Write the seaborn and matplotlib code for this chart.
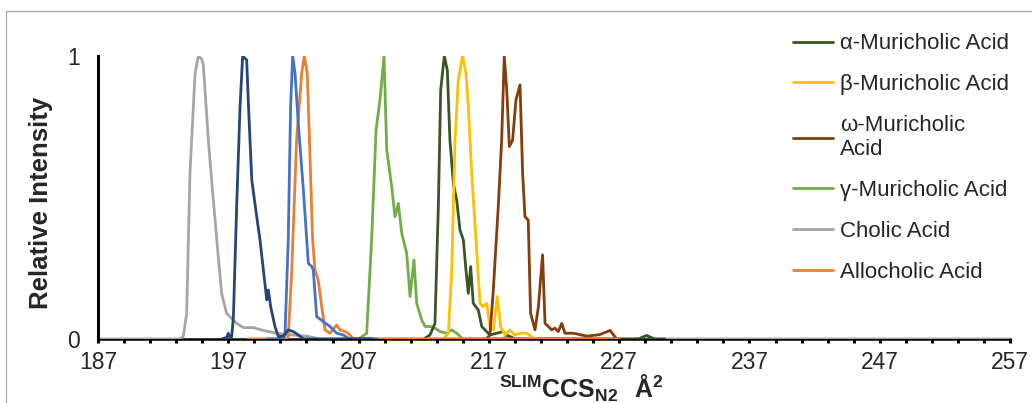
import pandas as pd
import matplotlib.pyplot as plt
import seaborn as sns
from matplotlib.lines import Line2D
from matplotlib.patches import Rectangle

# Peak traces (CCS in Å², intensity normalised to 1)
cholic_x = [187, 193.3, 193.55, 193.8, 194.06, 194.45, 194.7, 194.95, 195.08, 195.47, 195.85, 196.23,
            196.49, 196.87, 197.64, 198.15, 198.92, 199.69, 200.71, 201.7, 203.0, 204.0, 228.5, 229.1, 229.7, 257]
cholic_y = [0, 0, 0.01, 0.09, 0.59, 0.94, 1.0, 0.99, 0.97, 0.70, 0.49, 0.29,
            0.16, 0.09, 0.055, 0.04, 0.04, 0.03, 0.02, 0.015, 0.01, 0, 0, 0.012, 0, 0]

navy_x = [196.5, 196.87, 197.0, 197.13, 197.26, 197.39, 197.64, 197.9, 198.1, 198.41, 198.55, 198.8, 199.18,
          199.43, 199.69, 199.95, 200.07, 200.25, 200.58, 200.84, 201.22, 201.6, 201.99, 202.37, 202.76, 208.0]
navy_y = [0, 0.005, 0.02, 0.005, 0.008, 0.079, 0.468, 0.821, 1.0, 0.986, 0.821, 0.562, 0.432,
          0.35, 0.244, 0.138, 0.173, 0.114, 0.044, 0.008, 0.01, 0.032, 0.026, 0.014, 0, 0]

blue_x = [200.0, 201.2, 201.35, 201.6, 201.78, 201.94, 202.12, 202.37, 202.76, 203.14, 203.4, 203.52,
          203.78, 204.29, 204.8, 205.32, 205.82, 206.3, 208.4]
blue_y = [0, 0, 0.014, 0.35, 0.821, 1.0, 0.939, 0.762, 0.527, 0.267, 0.256, 0.244,
          0.079, 0.061, 0.044, 0.02, 0.014, 0, 0]

allo_x = [198.5, 201.5, 201.6, 201.86, 202.24, 202.63, 202.83, 203.06, 203.27, 203.47, 203.65, 203.9,
          204.17, 204.42, 204.8, 205.32, 205.57, 205.96, 206.2, 206.6, 227.0]
allo_y = [0, 0, 0.008, 0.232, 0.703, 0.939, 1.0, 0.939, 0.644, 0.35, 0.244, 0.208,
          0.114, 0.032, 0.02, 0.049, 0.032, 0.026, 0.02, 0, 0]

gamma_x = [207.0, 207.62, 208.0, 208.34, 208.64, 208.95, 209.16, 209.54, 209.79, 210.05, 210.31, 210.69,
           210.95, 211.25, 211.46, 211.84, 212.1, 212.48, 212.86, 213.25, 213.76, 214.14, 214.53, 215.0,
           218.0, 218.5, 219.0]
gamma_y = [0, 0.02, 0.35, 0.739, 0.845, 1.0, 0.668, 0.538, 0.432, 0.479, 0.373, 0.303,
           0.15, 0.279, 0.126, 0.067, 0.044, 0.044, 0.038, 0.026, 0.02, 0.032, 0.02, 0,
           0, 0.01, 0]

alpha_x = [212.0, 212.48, 212.86, 213.12, 213.3, 213.58, 213.81, 214.01, 214.27, 214.53, 214.78, 215.04,
           215.24, 215.42, 215.6, 215.8, 216.19, 216.45, 216.7, 217.08, 217.6, 218.1, 218.37, 219.0,
           228.5, 229.1, 229.7, 230.5]
alpha_y = [0, 0.014, 0.055, 0.468, 0.88, 1.0, 0.95, 0.703, 0.55, 0.491, 0.385, 0.35,
           0.244, 0.161, 0.256, 0.126, 0.102, 0.044, 0.032, 0.014, 0.02, 0.026, 0.014, 0,
           0, 0.012, 0, 0]

beta_x = [213.5, 213.89, 214.14, 214.4, 214.65, 214.99, 215.24, 215.42, 215.68, 216.01, 216.32, 216.52,
          216.83, 217.08, 217.34, 217.64, 217.9, 218.24, 218.62, 219.0, 219.39, 219.9, 220.5]
beta_y = [0, 0.02, 0.232, 0.703, 0.915, 1.0, 0.939, 0.821, 0.585, 0.35, 0.126, 0.114,
          0.126, 0.044, 0.032, 0.15, 0.044, 0.014, 0.032, 0.014, 0.02, 0.02, 0]

omega_x = [216.8, 217.08, 217.34, 217.72, 217.98, 218.18, 218.37, 218.57, 218.82, 219.08, 219.39, 219.59,
           219.77, 220.02, 220.2, 220.54, 220.8, 221.12, 221.31, 221.56, 221.82, 222.07, 222.33, 222.59,
           222.84, 223.5, 224.5, 225.5, 226.3, 226.8]
omega_y = [0, 0.014, 0.173, 0.468, 0.703, 1.0, 0.88, 0.68, 0.703, 0.845, 0.898, 0.585,
           0.432, 0.42, 0.091, 0.032, 0.114, 0.297, 0.055, 0.044, 0.032, 0.038, 0.026, 0.055,
           0.02, 0.02, 0.01, 0.015, 0.03, 0]

x_major = list(range(187, 258, 10))
x_minor = list(range(187, 258, 2))

series = {
    'Cholic Acid': (cholic_x, cholic_y),
    'γ-Muricholic Acid': (gamma_x, gamma_y),
    'α-Muricholic Acid': (alpha_x, alpha_y),
    'β-Muricholic Acid': (beta_x, beta_y),
    'ω-Muricholic\nAcid': (omega_x, omega_y),
    'Allocholic Acid': (allo_x, allo_y),
    'Unlabelled 2': (blue_x, blue_y),
    'Unlabelled 1': (navy_x, navy_y),
}
colors = {
    'α-Muricholic Acid': '#375623',
    'β-Muricholic Acid': '#FFC000',
    'ω-Muricholic\nAcid': '#843C0C',
    'γ-Muricholic Acid': '#70AD47',
    'Cholic Acid': '#A5A5A5',
    'Allocholic Acid': '#ED7D31',
    'Unlabelled 1': '#264478',
    'Unlabelled 2': '#4472C4',
}
legend_order = ['α-Muricholic Acid', 'β-Muricholic Acid', 'ω-Muricholic\nAcid',
                'γ-Muricholic Acid', 'Cholic Acid', 'Allocholic Acid']

rows = []
for name, (xs, ys) in series.items():
    for x, y in zip(xs, ys):
        rows.append({'ccs': x, 'intensity': y, 'compound': name})
df = pd.DataFrame(rows)

sns.set_style("white")
plt.rcParams['font.family'] = ['Liberation Sans', 'DejaVu Sans']
plt.rcParams['mathtext.fontset'] = 'custom'
plt.rcParams['mathtext.rm'] = 'Liberation Sans'
plt.rcParams['mathtext.bf'] = 'Liberation Sans:bold'

fig = plt.figure(figsize=(10.32, 4.03), dpi=100)
ax = fig.add_axes([0.095, 0.159, 0.8837, 0.702])

sns.lineplot(data=df, x='ccs', y='intensity', hue='compound', hue_order=list(series.keys()),
             palette=colors, estimator=None, sort=False, legend=False, linewidth=2.0, ax=ax)

ax.set_xlim(187, 257)
ax.set_ylim(0, 1)
ax.set_yticks([0, 1])
ax.set_xticks(x_major)
ax.set_xticks(x_minor, minor=True)
ax.tick_params(axis='x', which='both', direction='out', length=3, width=2.2, color='black',
               labelsize=16.5, pad=6, bottom=True)
ax.tick_params(axis='y', length=0, labelsize=16.5, pad=13)

for side in ['top', 'right']:
    ax.spines[side].set_visible(False)
ax.spines['left'].set_color('black')
ax.spines['left'].set_linewidth(2.2)
ax.spines['bottom'].set_color('black')
ax.spines['bottom'].set_linewidth(1.8)
ax.spines['bottom'].set_zorder(0.5)

ax.set_ylabel('Relative Intensity', fontsize=18.5, fontweight='bold')
ax.yaxis.set_label_coords(-0.049, 0.48)
ax.set_xlabel(r'$\mathbf{^{SLIM}CCS_{N2}\ \ Å^{2}}$', fontsize=18)
ax.xaxis.set_label_coords(0.53, -0.12)
ax.xaxis.label.set_va('top')

handles = [Line2D([0], [0], color=colors[n], lw=2.0) for n in legend_order]
fig.legend(handles, legend_order, loc='upper left', bbox_to_anchor=(0.760, 0.939),
           frameon=False, fontsize=16, handlelength=1.8, handletextpad=0.32,
           labelspacing=0.89, borderaxespad=0)

# light grey frame around the figure, open on the right and bottom edges
fig.patches.append(Rectangle((6 / 1032, -0.1), 1.2, 1 - 11 / 403 + 0.1, transform=fig.transFigure,
                             fill=False, edgecolor='#A6A6A6', linewidth=0.9, clip_on=False))

fig.savefig('out.png', dpi=100)
